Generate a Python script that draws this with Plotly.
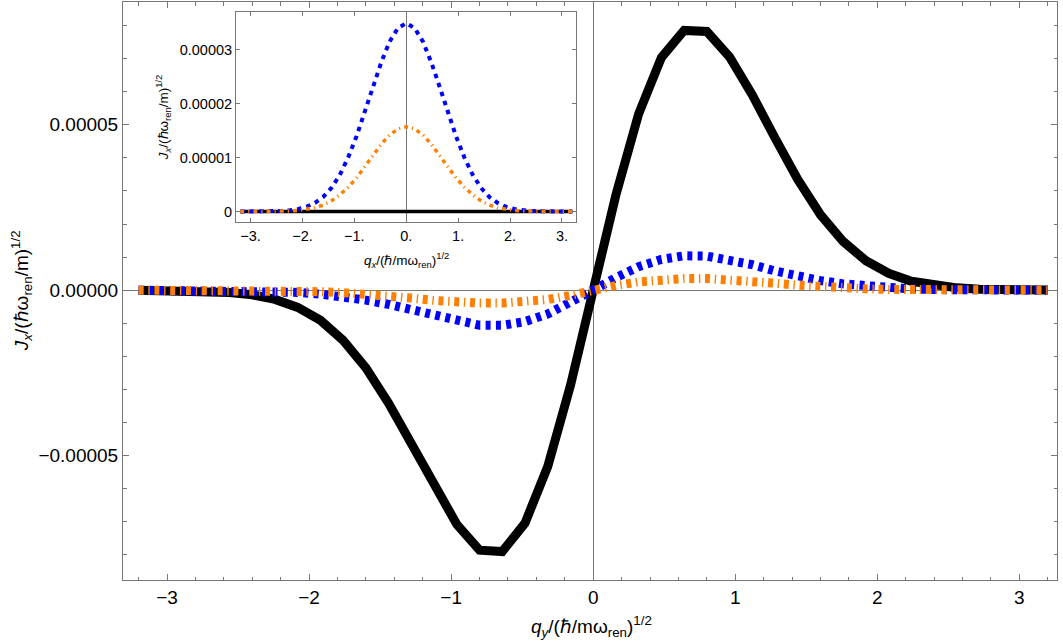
import plotly.graph_objects as go

# sample grid (q / (hbar/m w_ren)^1/2)
q = [-3.2, -3.04, -2.88, -2.72, -2.56, -2.4, -2.24, -2.08, -1.92, -1.76, -1.6,
     -1.44, -1.28, -1.12, -0.96, -0.8, -0.64, -0.48, -0.32, -0.16, 0.0,
     0.16, 0.32, 0.48, 0.64, 0.8, 0.96, 1.12, 1.28, 1.44, 1.6,
     1.76, 1.92, 2.08, 2.24, 2.4, 2.56, 2.72, 2.88, 3.04, 3.2]

# main panel values, in units of 1e-5
main_black = [-0.002, -0.005, -0.01, -0.03, -0.07, -0.14, -0.28, -0.52, -0.91, -1.52, -2.35,
              -3.42, -4.65, -5.93, -7.08, -7.86, -7.90, -7.04, -5.33, -2.88, 0.0,
              2.88, 5.33, 7.03, 7.85, 7.82, 7.05, 5.90, 4.60, 3.35, 2.28,
              1.47, 0.89, 0.51, 0.27, 0.14, 0.07, 0.03, 0.01, 0.005, 0.002]
main_blue = [0.0, -0.001, -0.002, -0.004, -0.009, -0.018, -0.036, -0.067, -0.12, -0.19, -0.30,
             -0.43, -0.60, -0.79, -0.95, -1.06, -1.06, -0.95, -0.72, -0.39, 0.0,
             0.38, 0.71, 0.93, 1.04, 1.03, 0.93, 0.77, 0.58, 0.42, 0.29,
             0.19, 0.12, 0.067, 0.036, 0.018, 0.009, 0.004, 0.002, 0.001, 0.0]
main_orange = [0.0, -0.0002, -0.0006, -0.0015, -0.003, -0.007, -0.014, -0.026, -0.045, -0.075, -0.115,
               -0.17, -0.24, -0.31, -0.36, -0.39, -0.39, -0.36, -0.28, -0.16, 0.0,
               0.14, 0.25, 0.32, 0.35, 0.35, 0.32, 0.27, 0.21, 0.15, 0.10,
               0.066, 0.04, 0.023, 0.012, 0.006, 0.003, 0.0015, 0.0006, 0.0002, 0.0]

# inset values, in units of 1e-5
inset_black = [0.0] * 41
inset_blue = [0.0, 0.0, 0.001, 0.002, 0.005, 0.011, 0.023, 0.046, 0.09, 0.16, 0.27,
              0.44, 0.68, 1.00, 1.39, 1.84, 2.32, 2.77, 3.15, 3.40, 3.49,
              3.40, 3.15, 2.77, 2.32, 1.84, 1.39, 1.00, 0.68, 0.44, 0.27,
              0.16, 0.09, 0.046, 0.023, 0.011, 0.005, 0.002, 0.001, 0.0, 0.0]
inset_orange = [0.0, 0.0, 0.0, 0.001, 0.002, 0.005, 0.01, 0.02, 0.04, 0.07, 0.12,
                0.20, 0.31, 0.45, 0.62, 0.83, 1.04, 1.25, 1.42, 1.53, 1.57,
                1.53, 1.42, 1.25, 1.04, 0.83, 0.62, 0.45, 0.31, 0.20, 0.12,
                0.07, 0.04, 0.02, 0.01, 0.005, 0.002, 0.001, 0.0, 0.0, 0.0]

unit = 1e-5

main_xticks = [-3, -2, -1, 0, 1, 2, 3]
main_xtext = ["\u22123", "\u22122", "\u22121", "0", "1", "2", "3"]
main_yticks = [-5e-5, 0.0, 5e-5]
main_ytext = ["\u22120.00005", "0.00000", "0.00005"]
inset_xticks = [-3, -2, -1, 0, 1, 2, 3]
inset_xtext = ["\u22123.", "\u22122.", "\u22121.", "0.", "1.", "2.", "3."]
inset_yticks = [0.0, 1e-5, 2e-5, 3e-5]
inset_ytext = ["0", "0.00001", "0.00002", "0.00003"]

BLACK = "#000000"
BLUE = "#0000FF"
ORANGE = "#FF8000"
FRAME = "#777777"
FONT = "Liberation Sans, Arial, sans-serif"

fig = go.Figure()

def sc(v):
    return [a * unit for a in v]

# main panel
fig.add_trace(go.Scatter(x=q, y=sc(main_black), mode="lines",
                         line=dict(color=BLACK, width=9), xaxis="x", yaxis="y"))
fig.add_trace(go.Scatter(x=q, y=sc(main_blue), mode="lines",
                         line=dict(color=BLUE, width=9, dash="5px,5.3px"), xaxis="x", yaxis="y"))
fig.add_trace(go.Scatter(x=q, y=sc(main_orange), mode="lines",
                         line=dict(color=ORANGE, width=9, dash="5px,4.7px,1.4px,4.7px"),
                         xaxis="x", yaxis="y"))
# inset
fig.add_trace(go.Scatter(x=q, y=sc(inset_black), mode="lines",
                         line=dict(color=BLACK, width=3.5), xaxis="x2", yaxis="y2"))
fig.add_trace(go.Scatter(x=q, y=sc(inset_blue), mode="lines",
                         line=dict(color=BLUE, width=4, dash="4.5px,5px"), xaxis="x2", yaxis="y2"))
fig.add_trace(go.Scatter(x=q, y=sc(inset_orange), mode="lines",
                         line=dict(color=ORANGE, width=3.5, dash="4px,4px,1.2px,4px"),
                         xaxis="x2", yaxis="y2"))

common = dict(showgrid=False, showline=True, linecolor=FRAME, linewidth=1,
              mirror="allticks", ticks="inside", tickcolor=FRAME, automargin=False,
              zeroline=True, zerolinecolor=FRAME, zerolinewidth=1)

fig.update_layout(
    width=1063, height=644,
    margin=dict(l=123, r=6, t=2, b=64, autoexpand=False),
    paper_bgcolor="white", plot_bgcolor="white",
    showlegend=False,
    font=dict(family=FONT, color="black"),
    xaxis=dict(range=[-3.31, 3.265], tickmode="array", tickvals=main_xticks, ticktext=main_xtext,
               ticklen=6, tickfont=dict(size=19, family=FONT, color="black"),
               ticklabelstandoff=0,
               minor=dict(tickmode="linear", tick0=0, dtick=0.2, ticks="inside", ticklen=3.5,
                          tickcolor=FRAME),
               **common),
    yaxis=dict(range=[-8.76e-5, 8.71e-5], tickmode="array", tickvals=main_yticks, ticktext=main_ytext,
               ticklen=6, tickfont=dict(size=19, family=FONT, color="black"),
               minor=dict(tickmode="linear", tick0=0, dtick=1e-5, ticks="inside", ticklen=3.5,
                          tickcolor=FRAME),
               **common),
    xaxis2=dict(domain=[0.121, 0.485], anchor="y2", range=[-3.28, 3.27], tickmode="array",
                tickvals=inset_xticks, ticktext=inset_xtext, ticklen=4,
                tickfont=dict(size=14.5, family=FONT, color="black"), **common),
    yaxis2=dict(domain=[0.619, 0.983], anchor="x2", range=[-0.198e-5, 3.70e-5], tickmode="array",
                tickvals=inset_yticks, ticktext=inset_ytext, ticklen=4,
                tickfont=dict(size=14.5, family=FONT, color="black"), **common),
)

fig.add_annotation(text="<i>q</i><sub><i>y</i></sub>/(\u210F/m\u03C9<sub>ren</sub>)<sup>1/2</sup>",
                   xref="paper", yref="paper", x=0.502, y=-0.081, xanchor="center", yanchor="middle",
                   showarrow=False, font=dict(size=19, family=FONT, color="black"))
fig.add_annotation(text="<i>J</i><sub><i>x</i></sub>/(\u210F\u03C9<sub>ren</sub>/m)<sup>1/2</sup>",
                   xref="paper", yref="paper", x=-0.109, y=0.5, xanchor="center", yanchor="middle",
                   textangle=-90, showarrow=False, font=dict(size=19, family=FONT, color="black"))
fig.add_annotation(text="<i>q</i><sub><i>x</i></sub>/(\u210F/m\u03C9<sub>ren</sub>)<sup>1/2</sup>",
                   xref="paper", yref="paper", x=0.304, y=0.554, xanchor="center", yanchor="middle",
                   showarrow=False, font=dict(size=13.5, family=FONT, color="black"))
fig.add_annotation(text="<i>J</i><sub><i>x</i></sub>/(\u210F\u03C9<sub>ren</sub>/m)<sup>1/2</sup>",
                   xref="paper", yref="paper", x=0.043, y=0.801, xanchor="center", yanchor="middle",
                   textangle=-90, showarrow=False, font=dict(size=13.5, family=FONT, color="black"))

fig.write_html("out.html", config={"displayModeBar": False},
               post_script="document.body.style.margin='0';document.body.style.padding='0';")
